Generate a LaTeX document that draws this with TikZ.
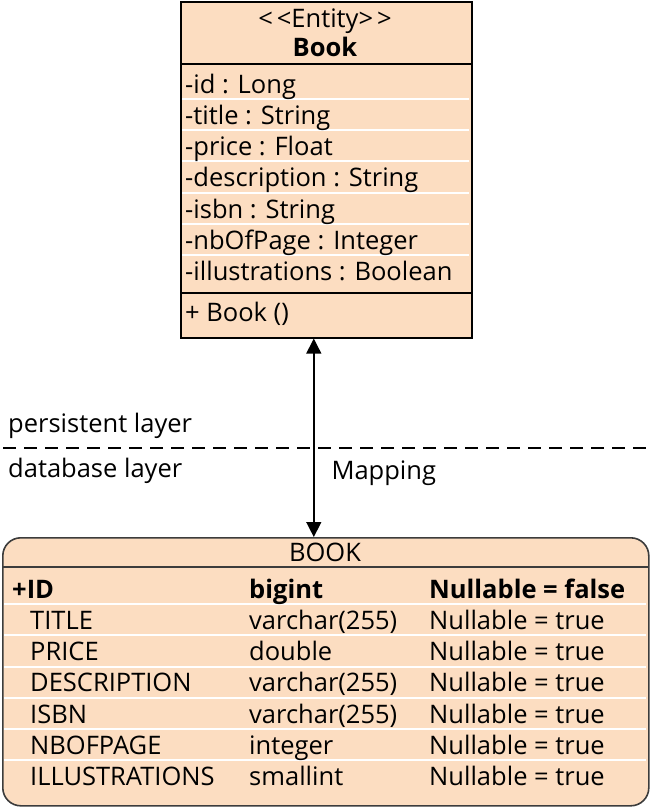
\documentclass[tikz,border=0pt]{standalone}
\usepackage{fontspec}
\setmainfont{Open Sans}
\usetikzlibrary{arrows.meta,positioning}
\definecolor{peach}{RGB}{252,221,193}
\definecolor{tableborder}{RGB}{60,60,60}
\tikzset{
  umltext/.style={font=\fontsize{25.5}{29}\selectfont, inner sep=0pt, text height=22pt, text depth=3pt, anchor=west},
  umlbold/.style={umltext, font=\fontsize{25.5}{29}\selectfont\bfseries},
  rowsep/.style={white, line width=1.2pt},
  mapping/.style={{Triangle[length=15pt,width=15pt]}-{Triangle[length=15pt,width=15pt]}, line width=1.4pt},
}
\begin{document}
\begin{tikzpicture}[x=1pt,y=-1pt]
    \useasboundingbox (0,0) rectangle (651,807);
    % Entity class
    \node[draw, line width=1.6pt, fill=peach, minimum width=291pt, minimum height=336pt,
          anchor=north west, inner sep=0pt] (book) at (180,1) {};
    \foreach \y in {99,130,161,193,224,255}
        \draw[rowsep] (182,\y) -- (469,\y);
    \draw[line width=1.6pt] (180,64) -- (471,64);
    \draw[line width=1.6pt] (180,293) -- (471,293);
    \node[umltext, anchor=center] (stereo) at (325,18) {<\kern4pt<Entity>\kern4pt>};
    \node[umlbold, anchor=center] (bookname) at (325,47) {Book};
    \foreach \attr [count=\i] in {-id : Long,-title : String,-price : Float,-description : String,
                                  -isbn : String,-nbOfPage : Integer,-illustrations : Boolean}
        \node[umltext] (attr\i) at (185,{84+31.15*(\i-1)}) {\attr};
    \node[umltext] (ctor) at (185,312) {+ Book ()};
    % Table
    \node[draw=tableborder, line width=1.6pt, fill=peach, rounded corners=18pt, minimum width=646pt,
          minimum height=268pt, anchor=north west, inner sep=0pt] (booktable) at (2,537) {};
    \foreach \y in {604,635,667,698,729,760}
        \draw[rowsep] (4,\y) -- (646,\y);
    \draw[tableborder, line width=1.6pt] (2,567) -- (648,567);
    \node[umltext, anchor=center] (tabname) at (325,552) {BOOK};
    \node[umlbold] (colid) at (12,589) {+ID};
    \node[umlbold] (typid) at (249,589) {bigint};
    \node[umlbold] (nullid) at (429,589) {Nullable = false};
    \foreach \col/\typ [count=\i] in {TITLE/varchar(255),PRICE/double,DESCRIPTION/varchar(255),
                                      ISBN/varchar(255),NBOFPAGE/integer,ILLUSTRATIONS/smallint} {
        \node[umltext] (col\i) at (30,{589+31.15*\i}) {\col};
        \node[umltext] (typ\i) at (249,{589+31.15*\i}) {\typ};
        \node[umltext] (null\i) at (429,{589+31.15*\i}) {Nullable = true};
    }
    % Layers
    \draw[dash pattern=on 13pt off 8pt, line width=1.4pt] (3,448) -- (651,448);
    \node[umltext] (persist) at (8,423) {persistent layer};
    \node[umltext] (dblayer) at (8,468) {database layer};
    % Mapping
    \draw[mapping] ([xshift=-12.5pt]book.south) -- ([xshift=-12.5pt]book.south |- booktable.north)
        node[umltext, pos=0.66, xshift=17pt] (maplabel) {Mapping};
\end{tikzpicture}
\end{document}
